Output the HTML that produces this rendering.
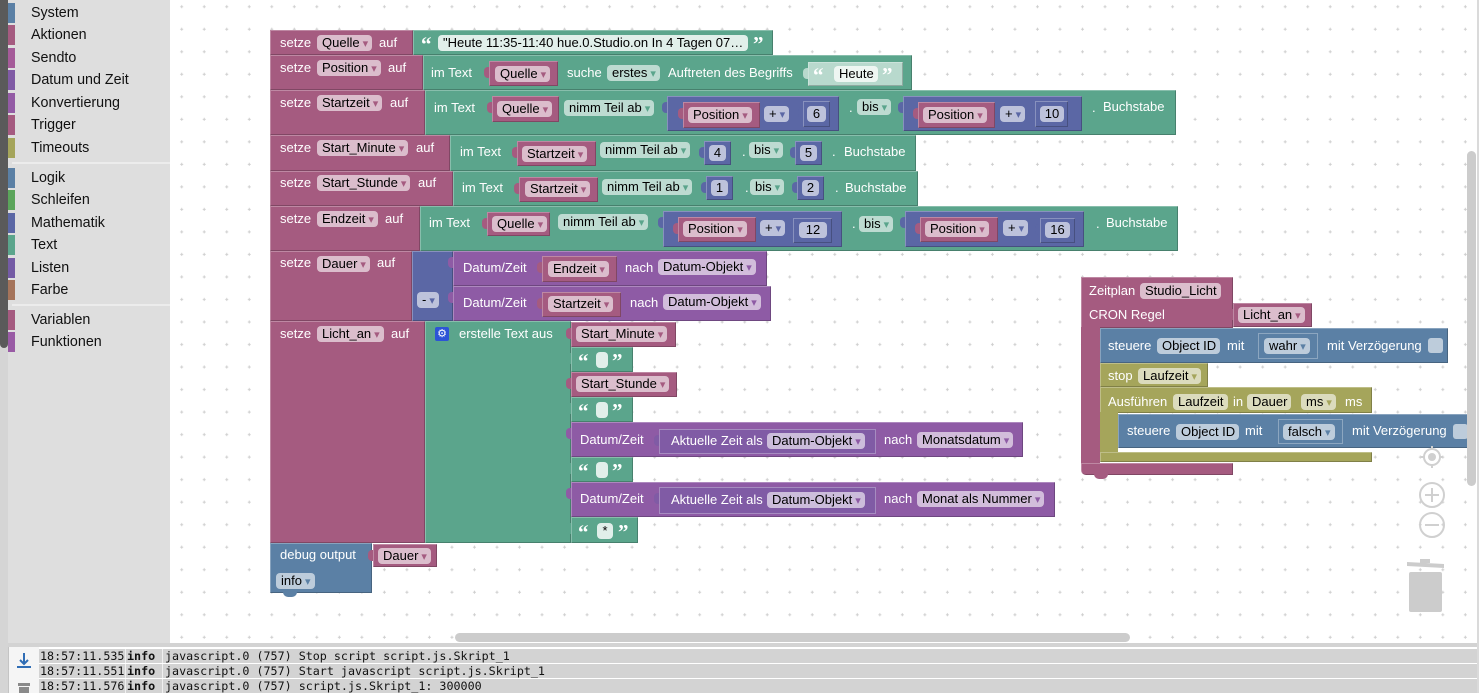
<!DOCTYPE html>
<html><head><meta charset="utf-8"><style>
*{margin:0;padding:0;box-sizing:border-box}
html,body{width:1483px;height:693px;overflow:hidden;background:#fff}
body{position:relative;font-family:"Liberation Sans",Arial,sans-serif}
.a{position:absolute}
.k{position:absolute;box-shadow:inset 1px 1px 0 rgba(255,255,255,.28),inset -1px -1px 0 rgba(0,0,0,.22)}
.k>i{position:absolute;left:-5px;top:6px;width:5px;height:11px;border-radius:4px 0 0 4px;background:inherit}
.M{background:#a55b80}.G{background:#5ba58c}.N{background:#5b67a5}.D{background:#8e5ba5}.E{background:#805ba5;box-shadow:inset 0 0 0 1px rgba(255,255,255,.3)}.B{background:#5b80a5}.O{background:#a5a55b}.S{background:#b8d9cd}
.l{position:absolute;color:#fff;font-size:13px;line-height:16px;white-space:nowrap}
.f{position:absolute;height:16px;border-radius:4px;background:rgba(255,255,255,.6);color:#000;font-size:13px;line-height:16px;white-space:nowrap;padding:0 4px 0 5px}
.f b{font-weight:normal;font-size:11px;margin-left:3px;font-family:"DejaVu Sans",sans-serif;vertical-align:0}
.c{text-align:center;padding:0}
.w{background:rgba(255,255,255,.82)}
.fm b{color:#a55b80}.fg b{color:#5ba58c}.fn b{color:#5b67a5}.fd b{color:#8e5ba5}.fb b{color:#5b80a5}.fo b{color:#a5a55b}
.q{position:absolute;color:#fff;font-family:"Liberation Serif",serif;font-size:21px;font-weight:bold;line-height:16px}
.sb{position:absolute;left:8px;width:7px;height:20px}
.st{position:absolute;left:31px;font-size:14.3px;line-height:18px;color:#111;white-space:nowrap}
.lr{position:absolute;left:39px;width:1438px;height:14px;background:#d3d3d3;font:11.7px/14px "DejaVu Sans Mono",monospace;color:#111;white-space:nowrap}
.lr span{position:absolute;top:0}
.lr:before,.lr:after{content:"";position:absolute;top:0;width:1px;height:14px;background:#f0f0f0}
.lr:before{left:86px}.lr:after{left:123px}
</style></head><body>

<!-- sidebar -->
<div class="a" style="left:0;top:0;width:8px;height:693px;background:#d5d5d5"></div>
<div class="a" style="left:0;top:0;width:8px;height:348px;background:#5a5a5a;border-radius:0 0 4px 4px"></div>
<div class="a" style="left:8px;top:348px;width:1px;height:345px;background:#c4c4c4"></div>
<div class="a" style="left:8px;top:0;width:162px;height:643px;background:#dedede"></div>
<div class="sb" style="top:3px;background:#5b80a5"></div><div class="st" style="top:4px">System</div>
<div class="sb" style="top:25px;background:#a55b80"></div><div class="st" style="top:26px">Aktionen</div>
<div class="sb" style="top:48px;background:#a55b99"></div><div class="st" style="top:49px">Sendto</div>
<div class="sb" style="top:70px;background:#805ba5"></div><div class="st" style="top:71px">Datum und Zeit</div>
<div class="sb" style="top:93px;background:#935ba5"></div><div class="st" style="top:94px">Konvertierung</div>
<div class="sb" style="top:115px;background:#a55b80"></div><div class="st" style="top:116px">Trigger</div>
<div class="sb" style="top:138px;background:#a5a55b"></div><div class="st" style="top:139px">Timeouts</div>
<div class="a" style="left:12px;top:162px;width:158px;height:2px;background:#ececec"></div>
<div class="sb" style="top:168px;background:#5b80a5"></div><div class="st" style="top:169px">Logik</div>
<div class="sb" style="top:190px;background:#5ba55b"></div><div class="st" style="top:191px">Schleifen</div>
<div class="sb" style="top:213px;background:#5b67a5"></div><div class="st" style="top:214px">Mathematik</div>
<div class="sb" style="top:235px;background:#5ba58c"></div><div class="st" style="top:236px">Text</div>
<div class="sb" style="top:258px;background:#745ba5"></div><div class="st" style="top:259px">Listen</div>
<div class="sb" style="top:280px;background:#a5745b"></div><div class="st" style="top:281px">Farbe</div>
<div class="a" style="left:12px;top:304px;width:158px;height:2px;background:#ececec"></div>
<div class="sb" style="top:310px;background:#a55b80"></div><div class="st" style="top:311px">Variablen</div>
<div class="sb" style="top:332px;background:#995ba5"></div><div class="st" style="top:333px">Funktionen</div>

<!-- workspace grid -->
<svg class="a" style="left:170px;top:0" width="1307" height="643"><defs><pattern id="p" x="0" y="0" width="22.52" height="22.52" patternUnits="userSpaceOnUse"><path d="M10.2 6.7h3M11.7 5.2v3" stroke="#cfcfcf" stroke-width="1"/></pattern></defs><rect width="1307" height="643" fill="url(#p)"/></svg>
<div class="a" style="left:1477px;top:0;width:2px;height:693px;background:#dadada"></div>

<!-- ROW 1 -->
<div class="k M" style="left:270px;top:30px;width:143px;height:25px"></div>
<div class="k G" style="left:413px;top:30px;width:360px;height:25px"></div>
<div class="l" style="left:280px;top:35px">setze</div>
<div class="f fm" style="left:317px;top:35px">Quelle<b>▾</b></div>
<div class="l" style="left:379px;top:35px">auf</div>
<div class="q" style="left:421px;top:36px">“</div>
<div class="f w" style="left:438px;top:35px;width:310px">"Heute 11:35-11:40 hue.0.Studio.on In 4 Tagen 07…</div>
<div class="q" style="left:753px;top:36px">”</div>

<!-- ROW 2 -->
<div class="k M" style="left:270px;top:55px;width:153px;height:35px"></div>
<div class="k G" style="left:423px;top:55px;width:489px;height:35px"></div>
<div class="l" style="left:280px;top:60px">setze</div>
<div class="f fm" style="left:317px;top:60px">Position<b>▾</b></div>
<div class="l" style="left:388px;top:60px">auf</div>
<div class="l" style="left:431px;top:65px">im Text</div>
<div class="k M" style="left:489px;top:61px;width:69px;height:25px"><i></i></div>
<div class="f fm" style="left:495px;top:66px">Quelle<b>▾</b></div>
<div class="l" style="left:567px;top:65px">suche</div>
<div class="f fg" style="left:607px;top:65px">erstes<b>▾</b></div>
<div class="l" style="left:668px;top:65px">Auftreten des Begriffs</div>
<div class="k S" style="left:808px;top:62px;width:95px;height:24px"><i></i></div>
<div class="q" style="left:813px;top:67px">“</div>
<div class="f" style="left:834px;top:66px;background:#eef6f2">Heute</div>
<div class="q" style="left:882px;top:67px">”</div>

<!-- ROW 3 -->
<div class="k M" style="left:270px;top:90px;width:155px;height:45px"></div>
<div class="k G" style="left:425px;top:90px;width:751px;height:45px"></div>
<div class="l" style="left:280px;top:95px">setze</div>
<div class="f fm" style="left:317px;top:95px">Startzeit<b>▾</b></div>
<div class="l" style="left:390px;top:95px">auf</div>
<div class="l" style="left:434px;top:100px">im Text</div>
<div class="k M" style="left:492px;top:96px;width:67px;height:26px"><i></i></div>
<div class="f fm" style="left:497px;top:101px">Quelle<b>▾</b></div>
<div class="f fg" style="left:564px;top:100px">nimm Teil ab<b>▾</b></div>
<div class="k N" style="left:667px;top:96px;width:172px;height:35px"><i></i></div>
<div class="k M" style="left:683px;top:102px;width:77px;height:26px"><i></i></div>
<div class="f fm" style="left:688px;top:107px">Position<b>▾</b></div>
<div class="f fn" style="left:764px;top:106px">+<b>▾</b></div>
<div class="k N" style="left:803px;top:101px;width:27px;height:26px"><i></i></div>
<div class="f c" style="left:807px;top:106px;width:19px">6</div>
<div class="l" style="left:849px;top:100px">.</div>
<div class="f fg" style="left:857px;top:99px">bis<b>▾</b></div>
<div class="k N" style="left:903px;top:96px;width:179px;height:35px"><i></i></div>
<div class="k M" style="left:918px;top:102px;width:77px;height:26px"><i></i></div>
<div class="f fm" style="left:923px;top:107px">Position<b>▾</b></div>
<div class="f fn" style="left:1000px;top:106px">+<b>▾</b></div>
<div class="k N" style="left:1035px;top:101px;width:33px;height:26px"><i></i></div>
<div class="f c" style="left:1040px;top:106px;width:24px">10</div>
<div class="l" style="left:1092px;top:100px">.</div>
<div class="l" style="left:1103px;top:99px">Buchstabe</div>

<!-- ROW 4 -->
<div class="k M" style="left:270px;top:135px;width:180px;height:36px"></div>
<div class="k G" style="left:450px;top:135px;width:466px;height:36px"></div>
<div class="l" style="left:280px;top:140px">setze</div>
<div class="f fm" style="left:317px;top:140px">Start_Minute<b>▾</b></div>
<div class="l" style="left:416px;top:140px">auf</div>
<div class="l" style="left:460px;top:144px">im Text</div>
<div class="k M" style="left:517px;top:141px;width:79px;height:25px"><i></i></div>
<div class="f fm" style="left:522px;top:146px">Startzeit<b>▾</b></div>
<div class="f fg" style="left:600px;top:142px">nimm Teil ab<b>▾</b></div>
<div class="k N" style="left:704px;top:141px;width:27px;height:24px"><i></i></div>
<div class="f c" style="left:709px;top:145px;width:17px">4</div>
<div class="l" style="left:742px;top:144px">.</div>
<div class="f fg" style="left:749px;top:142px">bis<b>▾</b></div>
<div class="k N" style="left:795px;top:141px;width:27px;height:24px"><i></i></div>
<div class="f c" style="left:800px;top:145px;width:17px">5</div>
<div class="l" style="left:832px;top:144px">.</div>
<div class="l" style="left:844px;top:144px">Buchstabe</div>

<!-- ROW 5 -->
<div class="k M" style="left:270px;top:171px;width:183px;height:35px"></div>
<div class="k G" style="left:453px;top:171px;width:465px;height:35px"></div>
<div class="l" style="left:280px;top:175px">setze</div>
<div class="f fm" style="left:317px;top:175px">Start_Stunde<b>▾</b></div>
<div class="l" style="left:418px;top:175px">auf</div>
<div class="l" style="left:462px;top:180px">im Text</div>
<div class="k M" style="left:519px;top:177px;width:79px;height:25px"><i></i></div>
<div class="f fm" style="left:525px;top:181px">Startzeit<b>▾</b></div>
<div class="f fg" style="left:602px;top:179px">nimm Teil ab<b>▾</b></div>
<div class="k N" style="left:706px;top:176px;width:27px;height:24px"><i></i></div>
<div class="f c" style="left:711px;top:180px;width:17px">1</div>
<div class="l" style="left:745px;top:180px">.</div>
<div class="f fg" style="left:750px;top:179px">bis<b>▾</b></div>
<div class="k N" style="left:797px;top:176px;width:27px;height:24px"><i></i></div>
<div class="f c" style="left:802px;top:180px;width:17px">2</div>
<div class="l" style="left:835px;top:180px">.</div>
<div class="l" style="left:845px;top:180px">Buchstabe</div>

<!-- ROW 6 -->
<div class="k M" style="left:270px;top:206px;width:150px;height:45px"></div>
<div class="k G" style="left:420px;top:206px;width:758px;height:45px"></div>
<div class="l" style="left:280px;top:211px">setze</div>
<div class="f fm" style="left:317px;top:211px">Endzeit<b>▾</b></div>
<div class="l" style="left:385px;top:211px">auf</div>
<div class="l" style="left:429px;top:215px">im Text</div>
<div class="k M" style="left:487px;top:212px;width:63px;height:24px"><i></i></div>
<div class="f fm" style="left:492px;top:216px">Quelle<b>▾</b></div>
<div class="f fg" style="left:558px;top:214px">nimm Teil ab<b>▾</b></div>
<div class="k N" style="left:663px;top:211px;width:179px;height:36px"><i></i></div>
<div class="k M" style="left:678px;top:217px;width:78px;height:25px"><i></i></div>
<div class="f fm" style="left:683px;top:221px">Position<b>▾</b></div>
<div class="f fn" style="left:760px;top:220px">+<b>▾</b></div>
<div class="k N" style="left:793px;top:218px;width:39px;height:25px"><i></i></div>
<div class="f c" style="left:799px;top:222px;width:28px">12</div>
<div class="l" style="left:852px;top:216px">.</div>
<div class="f fg" style="left:859px;top:216px">bis<b>▾</b></div>
<div class="k N" style="left:905px;top:211px;width:179px;height:36px"><i></i></div>
<div class="k M" style="left:920px;top:217px;width:78px;height:25px"><i></i></div>
<div class="f fm" style="left:925px;top:221px">Position<b>▾</b></div>
<div class="f fn" style="left:1003px;top:220px">+<b>▾</b></div>
<div class="k N" style="left:1040px;top:218px;width:35px;height:25px"><i></i></div>
<div class="f c" style="left:1045px;top:222px;width:25px">16</div>
<div class="l" style="left:1096px;top:216px">.</div>
<div class="l" style="left:1106px;top:215px">Buchstabe</div>

<!-- ROW 7 -->
<div class="k M" style="left:270px;top:251px;width:142px;height:70px"></div>
<div class="k N" style="left:412px;top:251px;width:41px;height:70px"></div>
<div class="k D" style="left:453px;top:251px;width:314px;height:35px"><i></i></div>
<div class="k D" style="left:453px;top:286px;width:318px;height:35px"><i></i></div>
<div class="l" style="left:280px;top:255px">setze</div>
<div class="f fm" style="left:317px;top:256px">Dauer<b>▾</b></div>
<div class="l" style="left:377px;top:255px">auf</div>
<div class="f fn" style="left:417px;top:292px">-<b>▾</b></div>
<div class="l" style="left:463px;top:260px">Datum/Zeit</div>
<div class="k M" style="left:542px;top:256px;width:75px;height:26px"><i></i></div>
<div class="f fm" style="left:548px;top:261px">Endzeit<b>▾</b></div>
<div class="l" style="left:625px;top:260px">nach</div>
<div class="f fd" style="left:658px;top:259px">Datum-Objekt<b>▾</b></div>
<div class="l" style="left:463px;top:295px">Datum/Zeit</div>
<div class="k M" style="left:542px;top:292px;width:79px;height:25px"><i></i></div>
<div class="f fm" style="left:548px;top:296px">Startzeit<b>▾</b></div>
<div class="l" style="left:630px;top:295px">nach</div>
<div class="f fd" style="left:663px;top:294px">Datum-Objekt<b>▾</b></div>

<!-- ROW 8 -->
<div class="k M" style="left:270px;top:321px;width:155px;height:222px"></div>
<div class="k G" style="left:425px;top:321px;width:146px;height:222px"></div>
<div class="l" style="left:280px;top:326px">setze</div>
<div class="f fm" style="left:317px;top:326px">Licht_an<b>▾</b></div>
<div class="l" style="left:391px;top:326px">auf</div>
<div class="a" style="left:435px;top:327px;width:14px;height:14px;background:#2d54d6;border-radius:2px;color:#fff;font:11px/14px 'DejaVu Sans',sans-serif;text-align:center">⚙</div>
<div class="l" style="left:459px;top:326px">erstelle Text aus</div>

<div class="k M" style="left:571px;top:322px;width:105px;height:25px"><i></i></div>
<div class="f fm" style="left:576px;top:326px">Start_Minute<b>▾</b></div>
<div class="k G" style="left:571px;top:347px;width:62px;height:25px"><i></i></div>
<div class="q" style="left:578px;top:353px">“</div><div class="f w" style="left:596px;top:352px;width:12px;padding:0"></div><div class="q" style="left:612px;top:353px">”</div>
<div class="k M" style="left:571px;top:372px;width:106px;height:25px"><i></i></div>
<div class="f fm" style="left:576px;top:376px">Start_Stunde<b>▾</b></div>
<div class="k G" style="left:571px;top:397px;width:62px;height:25px"><i></i></div>
<div class="q" style="left:578px;top:403px">“</div><div class="f w" style="left:596px;top:402px;width:12px;padding:0"></div><div class="q" style="left:612px;top:403px">”</div>
<div class="k D" style="left:571px;top:422px;width:452px;height:35px"><i></i></div>
<div class="l" style="left:580px;top:432px">Datum/Zeit</div>
<div class="k E" style="left:659px;top:429px;width:217px;height:25px"><i></i></div>
<div class="l" style="left:671px;top:433px">Aktuelle Zeit als</div>
<div class="f fd" style="left:767px;top:433px">Datum-Objekt<b>▾</b></div>
<div class="l" style="left:884px;top:432px">nach</div>
<div class="f fd" style="left:917px;top:432px">Monatsdatum<b>▾</b></div>
<div class="k G" style="left:571px;top:457px;width:62px;height:25px"><i></i></div>
<div class="q" style="left:578px;top:463px">“</div><div class="f w" style="left:596px;top:462px;width:12px;padding:0"></div><div class="q" style="left:612px;top:463px">”</div>
<div class="k D" style="left:571px;top:482px;width:484px;height:35px"><i></i></div>
<div class="l" style="left:580px;top:491px">Datum/Zeit</div>
<div class="k E" style="left:659px;top:487px;width:217px;height:27px"><i></i></div>
<div class="l" style="left:671px;top:492px">Aktuelle Zeit als</div>
<div class="f fd" style="left:767px;top:492px">Datum-Objekt<b>▾</b></div>
<div class="l" style="left:884px;top:491px">nach</div>
<div class="f fd" style="left:917px;top:491px">Monat als Nummer<b>▾</b></div>
<div class="k G" style="left:571px;top:517px;width:67px;height:26px"><i></i></div>
<div class="q" style="left:578px;top:524px">“</div><div class="f w c" style="left:597px;top:523px;width:16px">*</div><div class="q" style="left:618px;top:524px">”</div>

<!-- debug -->
<div class="k B" style="left:270px;top:543px;width:102px;height:50px"></div>
<div class="a" style="left:283px;top:592px;width:14px;height:5px;background:#5b80a5;border-radius:0 0 5px 5px"></div>
<div class="l" style="left:280px;top:547px">debug output</div>
<div class="k M" style="left:373px;top:544px;width:64px;height:23px"><i></i></div>
<div class="f fm" style="left:378px;top:548px">Dauer<b>▾</b></div>
<div class="f fb" style="left:276px;top:573px">info<b>▾</b></div>

<!-- Zeitplan block -->
<div class="k M" style="left:1081px;top:277px;width:152px;height:51px"></div>
<div class="a M" style="left:1081px;top:327px;width:19px;height:137px"></div>
<div class="k M" style="left:1081px;top:463px;width:152px;height:12px;border-radius:0 0 0 5px"></div>
<div class="a" style="left:1094px;top:474px;width:14px;height:5px;background:#a55b80;border-radius:0 0 5px 5px"></div>
<div class="l" style="left:1089px;top:283px">Zeitplan</div>
<div class="f" style="left:1140px;top:283px">Studio_Licht</div>
<div class="l" style="left:1089px;top:307px">CRON Regel</div>
<div class="k M" style="left:1233px;top:303px;width:79px;height:24px"><i></i></div>
<div class="f fm" style="left:1238px;top:307px">Licht_an<b>▾</b></div>

<div class="k B" style="left:1100px;top:328px;width:348px;height:35px"></div>
<div class="l" style="left:1108px;top:338px">steuere</div>
<div class="f" style="left:1157px;top:338px">Object ID</div>
<div class="l" style="left:1227px;top:338px">mit</div>
<div class="k B" style="left:1258px;top:333px;width:60px;height:26px;box-shadow:inset 0 0 0 1px rgba(255,255,255,.3)"><i></i></div>
<div class="f fb" style="left:1264px;top:338px">wahr<b>▾</b></div>
<div class="l" style="left:1327px;top:338px">mit Verzögerung</div>
<div class="a" style="left:1428px;top:338px;width:15px;height:15px;border-radius:3px;background:rgba(255,255,255,.6)"></div>

<div class="k O" style="left:1100px;top:363px;width:108px;height:24px"></div>
<div class="l" style="left:1108px;top:368px">stop</div>
<div class="f fo" style="left:1138px;top:368px">Laufzeit<b>▾</b></div>

<div class="k O" style="left:1100px;top:387px;width:272px;height:26px"></div>
<div class="a O" style="left:1100px;top:412px;width:18px;height:41px"></div>
<div class="k O" style="left:1100px;top:452px;width:272px;height:10px"></div>
<div class="l" style="left:1108px;top:394px">Ausführen</div>
<div class="f" style="left:1173px;top:394px">Laufzeit</div>
<div class="l" style="left:1233px;top:394px">in</div>
<div class="f" style="left:1247px;top:394px">Dauer</div>
<div class="f fo" style="left:1301px;top:394px">ms<b>▾</b></div>
<div class="l" style="left:1345px;top:394px">ms</div>

<div class="k B" style="left:1118px;top:414px;width:352px;height:34px"></div>
<div class="l" style="left:1127px;top:423px">steuere</div>
<div class="f" style="left:1176px;top:424px">Object ID</div>
<div class="l" style="left:1245px;top:423px">mit</div>
<div class="k B" style="left:1278px;top:419px;width:65px;height:25px;box-shadow:inset 0 0 0 1px rgba(255,255,255,.3)"><i></i></div>
<div class="f fb" style="left:1283px;top:424px">falsch<b>▾</b></div>
<div class="l" style="left:1352px;top:423px">mit Verzögerung</div>
<div class="a" style="left:1453px;top:424px;width:15px;height:15px;border-radius:3px;background:rgba(255,255,255,.6)"></div>

<!-- scrollbars -->
<div class="a" style="left:1467px;top:151px;width:9px;height:335px;background:#cccccc;border-radius:5px"></div>
<div class="a" style="left:455px;top:633px;width:675px;height:9px;background:#cccccc;border-radius:5px"></div>

<!-- zoom controls / trash -->
<svg class="a" style="left:1400px;top:440px" width="70" height="180">
<g stroke="#d0d0d0" stroke-width="2" fill="none">
<circle cx="32" cy="17" r="8"/><path d="M32 6v4M32 24v4M21 17h4M39 17h4"/>
<circle cx="32" cy="55" r="12"/><path d="M25 55h14M32 48v14"/>
<circle cx="32" cy="85" r="12"/><path d="M25 85h14"/>
</g>
<circle cx="32" cy="17" r="4" fill="#d0d0d0"/>
<path d="M7 122L44 124L44 128L7 126Z" fill="#cccccc"/><rect x="20" y="119" width="10" height="4" fill="#cccccc"/>
<rect x="9" y="132" width="33" height="40" rx="2" fill="#cccccc"/>
</svg>

<!-- log area -->
<div class="a" style="left:8px;top:643px;width:1469px;height:4px;background:#d3d3d3"></div>
<div class="a" style="left:9px;top:647px;width:30px;height:46px;background:#f5f5f5"></div>
<svg class="a" style="left:9px;top:647px" width="30" height="46">
<path d="M15 6v11M11 13l4 4 4-4" stroke="#2f6db5" stroke-width="2" fill="none"/>
<path d="M8 20h14" stroke="#2f6db5" stroke-width="2"/>
<rect x="9" y="36" width="12" height="3" fill="#8a8a8a"/><rect x="10" y="40" width="10" height="6" fill="#8a8a8a"/>
</svg>
<div class="lr" style="top:649px"><span style="left:1px">18:57:11.535</span><span style="left:88px;font-weight:bold">info</span><span style="left:126px">javascript.0 (757) Stop script script.js.Skript_1</span></div>
<div class="lr" style="top:664px"><span style="left:1px">18:57:11.551</span><span style="left:88px;font-weight:bold">info</span><span style="left:126px">javascript.0 (757) Start javascript script.js.Skript_1</span></div>
<div class="lr" style="top:679px"><span style="left:1px">18:57:11.576</span><span style="left:88px;font-weight:bold">info</span><span style="left:126px">javascript.0 (757) script.js.Skript_1: 300000</span></div>

</body></html>
